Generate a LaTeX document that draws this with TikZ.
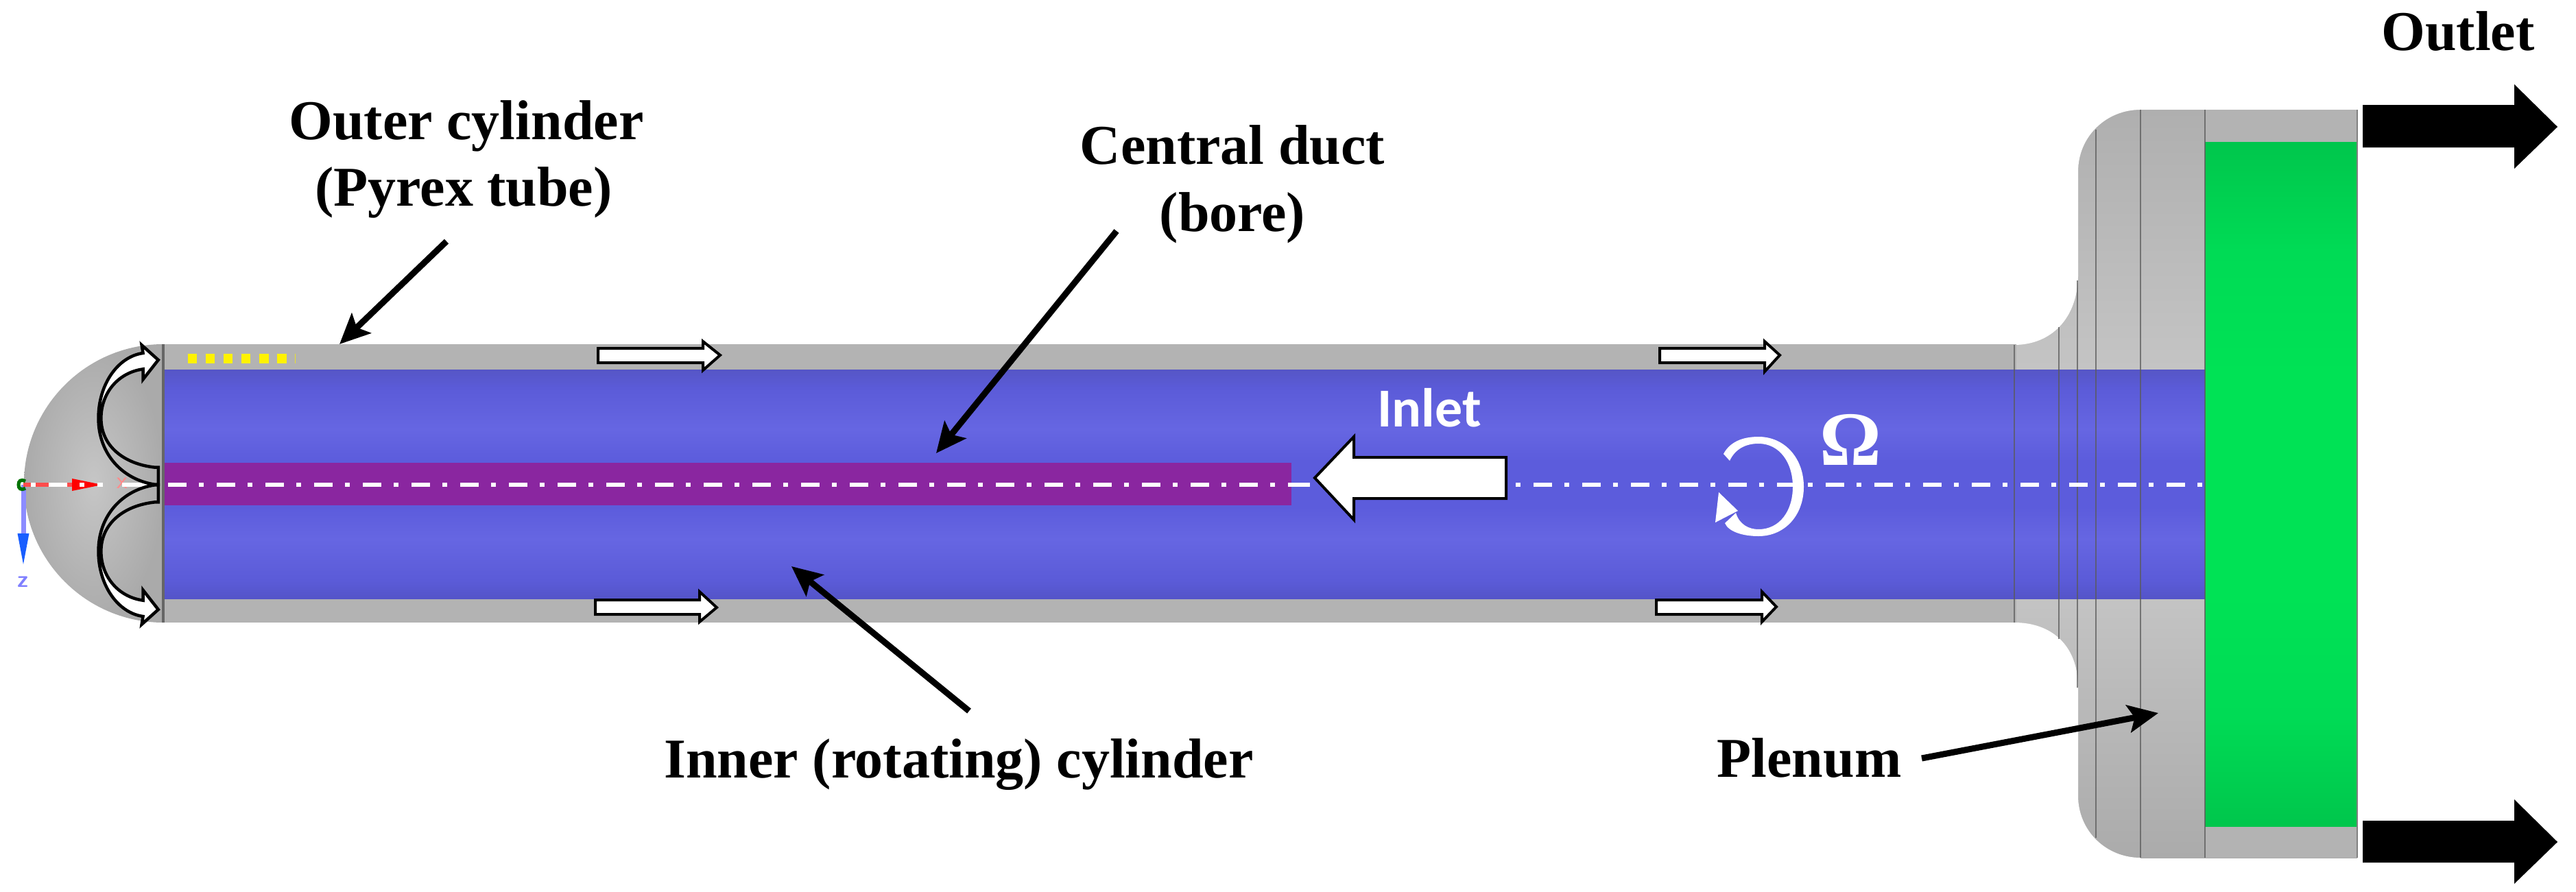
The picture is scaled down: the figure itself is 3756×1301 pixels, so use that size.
\documentclass[tikz,border=0pt]{standalone}
\usepackage{fontspec}
\setmainfont{Liberation Serif}
\newfontfamily\labelsans{Carlito}
\usetikzlibrary{arrows.meta}
\definecolor{wallgray}{HTML}{B3B3B3}
\definecolor{seamgray}{HTML}{5A5A5A}
\definecolor{ductpurple}{HTML}{8A26A0}
\definecolor{domeinner}{HTML}{C6C6C6}
\definecolor{domeouter}{HTML}{AAAAAA}
\definecolor{ba}{HTML}{5454C8}\definecolor{bb}{HTML}{5B5BD8}\definecolor{bc}{HTML}{6666E2}\definecolor{bd}{HTML}{5C5CDC}\definecolor{be}{HTML}{5656C6}
\definecolor{ga}{HTML}{00C64C}\definecolor{gb}{HTML}{00DB55}\definecolor{gc}{HTML}{00E255}
\definecolor{pa}{HTML}{ABABAB}\definecolor{pb}{HTML}{BABABA}\definecolor{pc}{HTML}{C6C6C6}\definecolor{pd}{HTML}{AFAFAF}
\pgfdeclareverticalshading{blueband}{100bp}{
 color(0bp)=(ba);color(25bp)=(ba);color(29bp)=(bb);color(38bp)=(bc);color(45bp)=(bd);color(55bp)=(bd);color(62bp)=(bc);color(71bp)=(bb);color(75bp)=(be);color(100bp)=(be)}
\pgfdeclareverticalshading{greenband}{100bp}{
 color(0bp)=(ga);color(25bp)=(ga);color(33bp)=(gb);color(42bp)=(gc);color(58bp)=(gc);color(67bp)=(gb);color(75bp)=(ga);color(100bp)=(ga)}
\pgfdeclareverticalshading{plenumband}{100bp}{
 color(0bp)=(pa);color(25bp)=(pa);color(36bp)=(pb);color(44bp)=(pc);color(56bp)=(pc);color(66bp)=(pb);color(75bp)=(pd);color(100bp)=(pd)}
\tikzset{
 lbl/.style={font=\fontsize{82}{82}\selectfont\bfseries,text=black,inner sep=0pt,anchor=base},
 leader/.style={draw=black,line width=9pt,-{Stealth[length=44pt,width=40pt,inset=9pt]}},
 seam/.style={draw=seamgray,line width=2.6pt,opacity=.75},
 flowarrow/.style={draw=black,fill=white,line width=4pt,line join=miter},
 axisline/.style={draw=white,line width=5.5pt,dash pattern=on 27pt off 18pt on 7pt off 19pt},
 uarrow/.style={draw=black,line width=4.5pt,line join=miter},
}
\begin{document}
\begin{tikzpicture}[x=1pt,y=-1pt]
\useasboundingbox (0,0) rectangle (3756,1301);
\fill[white] (0,0) rectangle (3756,1301);
% dome
\shade[inner color=domeinner,outer color=domeouter]
 (238,502) .. controls (126,502) and (35,593) .. (35,705) .. controls (35,817) and (126,908) .. (238,908) -- cycle;
% plenum
\path[shade,shading=plenumband] (2930,160) -- (3437,160) -- (3437,1251) -- (2930,1251) -- cycle;
\fill[white] (2925,150) -- (3121,150) -- (3121,160) .. controls (3070,160) and (3030,200) .. (3030,250) -- (3030,400) .. controls (3030,465) and (2990,503) .. (2937,503) -- (2925,503) -- cycle;
\fill[white] (2925,1260) -- (3121,1260) -- (3121,1251) .. controls (3070,1251) and (3030,1211) .. (3030,1161) -- (3030,1003) .. controls (3030,940) and (2990,908) .. (2937,908) -- (2925,908) -- cycle;
% tube walls
\fill[wallgray] (238,502) rectangle (2940,540);
\fill[wallgray] (238,873) rectangle (2940,908);
\fill[wallgray] (3215,160) rectangle (3437,207);
\fill[wallgray] (3215,1205) rectangle (3437,1251);
% fluid
\path[shade,shading=blueband] (238,539) rectangle (3215,873);
\path[shade,shading=greenband] (3215,207) rectangle (3437,1205);
\fill[ductpurple] (238,675) rectangle (1883,737);
% seams
\draw[draw=gray!80!black,line width=4pt] (238,502) -- (238,908);
\draw[seam] (2937,503) -- (2937,908);
\draw[seam] (3002,477) -- (3002,932);
\draw[seam] (3029,409) -- (3029,1003);
\draw[seam] (3056,189) -- (3056,1222);
\draw[seam] (3121,160) -- (3121,1251);
\draw[seam] (3215,160) -- (3215,1251);
\draw[draw=gray,line width=2pt] (3437,160) -- (3437,1251);
% yellow marks
\draw[yellow,line width=14pt,dash pattern=on 13.5pt off 12.6pt] (273.6,523) -- (418,523);
\draw[yellow!80!gray,line width=14pt] (430,523) -- (431,523);
% axis triad
\draw[draw=blue!45!white,line width=7pt] (34,707) -- (34,790);
\fill[blue!70!cyan!90!white] (25.5,778) -- (42.5,778) -- (34,823) -- cycle;
\draw[red!70!white,line width=6pt] (34,707) -- (110,707);
\fill[red] (105,698) -- (149,707) -- (105,716) -- cycle;
\draw[green!45!black,line width=5pt] (37,702) .. controls (30,698) and (27,702) .. (27,707) .. controls (27,712) and (30,716) .. (37,712);
\node[inner sep=0pt,text=red!45!white,font=\fontsize{36}{36}\selectfont\sffamily] (xaxis) at (178,705) {x};
\node[inner sep=0pt,text=blue!50!white,font=\fontsize{34}{34}\selectfont\sffamily\bfseries] (zaxis) at (34,849) {z};
% centre line
\draw[axisline] (245,707) -- (1883,707);
\draw[axisline,dash phase=36pt] (36,707) -- (150,707);
\draw[draw=white,line width=5.5pt] (178,707) -- (215,707);
\draw[draw=white,line width=5.5pt] (1883,707) -- (1910,707);
\draw[axisline,dash phase=45pt] (2210,707) -- (3215,707);
% curved flow arrows at the dome
\foreach \sc/\yo in {-0.3333/-450, 0.3333/-964}{
\begin{scope}[x=0.3827pt,y=\sc pt,shift={(0pt,\yo pt)}]
 \fill[white] (603,225) -- (540,160) -- (545,195) .. controls (470,215) and (395,290) .. (378,420) -- (386,420) .. controls (410,340) and (470,275) .. (545,265) -- (545,310) -- cycle;
 \draw[uarrow] (603,695) -- (603,770) -- (590,770) .. controls (470,750) and (375,640) .. (375,480) .. controls (375,330) and (450,210) .. (545,195) -- (540,160) -- (603,225) -- (545,310) -- (545,265) .. controls (450,280) and (385,370) .. (385,480) .. controls (385,600) and (470,680) .. (590,695) -- cycle;
\end{scope}}
% small flow arrows
\draw[flowarrow] (872,508) -- (1025,508) -- (1025,498) -- (1050,518) -- (1025,540) -- (1025,529) -- (872,529) -- cycle;
\draw[flowarrow] (2420,508) -- (2573,508) -- (2573,498) -- (2595,518) -- (2573,542) -- (2573,529) -- (2420,529) -- cycle;
\draw[flowarrow] (868,875) -- (1020,875) -- (1020,863) -- (1045,886) -- (1020,907) -- (1020,896) -- (868,896) -- cycle;
\draw[flowarrow] (2415,875) -- (2569,875) -- (2569,863) -- (2590,885) -- (2569,907) -- (2569,896) -- (2415,896) -- cycle;
% inlet arrow
\draw[draw=black,fill=white,line width=4pt] (1917,697) -- (1974,637) -- (1974,667) -- (2196,667) -- (2196,727) -- (1974,727) -- (1974,758) -- cycle;
\node[inner sep=0pt,anchor=base,text=white,font=\labelsans\fontsize{80}{80}\selectfont\bfseries] (inlet) at (2084,622) {Inlet};
% rotation
\fill[white] (2513,662) .. controls (2522,645) and (2540,637) .. (2564,637) .. controls (2602,637) and (2630,668) .. (2630,710) .. controls (2630,752) and (2602,782) .. (2564,782) .. controls (2540,782) and (2520,775) .. (2515,763) -- (2531,748) .. controls (2536,765) and (2550,772) .. (2564,772) .. controls (2595,772) and (2614,745) .. (2614,710) .. controls (2614,675) and (2595,647) .. (2564,647) .. controls (2545,647) and (2530,655) .. (2522,672) -- cycle;
\fill[white] (2506,718) -- (2534,745) -- (2501,762) -- cycle;
\node[inner sep=0pt,anchor=base,text=white,font=\fontsize{112}{112}\selectfont\bfseries] (omega) at (2698,678) {Ω};
% outlet arrows
\fill[black] (3445,153) -- (3666,153) -- (3666,123) -- (3729,185) -- (3666,246) -- (3666,215) -- (3445,215) -- cycle;
\fill[black] (3445,1197) -- (3666,1197) -- (3666,1166) -- (3729,1228) -- (3666,1289) -- (3666,1258) -- (3445,1258) -- cycle;
% labels
\node[lbl] (outerA) at (680,203) {Outer cylinder};
\node[lbl] (outerB) at (676,300) {(Pyrex tube)};
\node[lbl] (boreA) at (1797,239) {Central duct};
\node[lbl] (boreB) at (1797,337) {(bore)};
\node[lbl] (inner) at (1398,1134) {Inner (rotating) cylinder};
\node[lbl] (plenum) at (2638,1133) {Plenum};
\node[lbl] (outlet) at (3584,73) {Outlet};
% leaders
\coordinate (outerS) at (651,352); \coordinate (outerT) at (495,502);
\coordinate (boreS) at (1628,337); \coordinate (boreT) at (1365,661);
\coordinate (innerS) at (1413,1037); \coordinate (innerT) at (1154,826);
\coordinate (plenumS) at (2802,1106); \coordinate (plenumT) at (3147,1040);
\draw[leader] (outerS) -- (outerT);
\draw[leader] (boreS) -- (boreT);
\draw[leader] (innerS) -- (innerT);
\draw[leader] (plenumS) -- (plenumT);
\end{tikzpicture}
\end{document}
